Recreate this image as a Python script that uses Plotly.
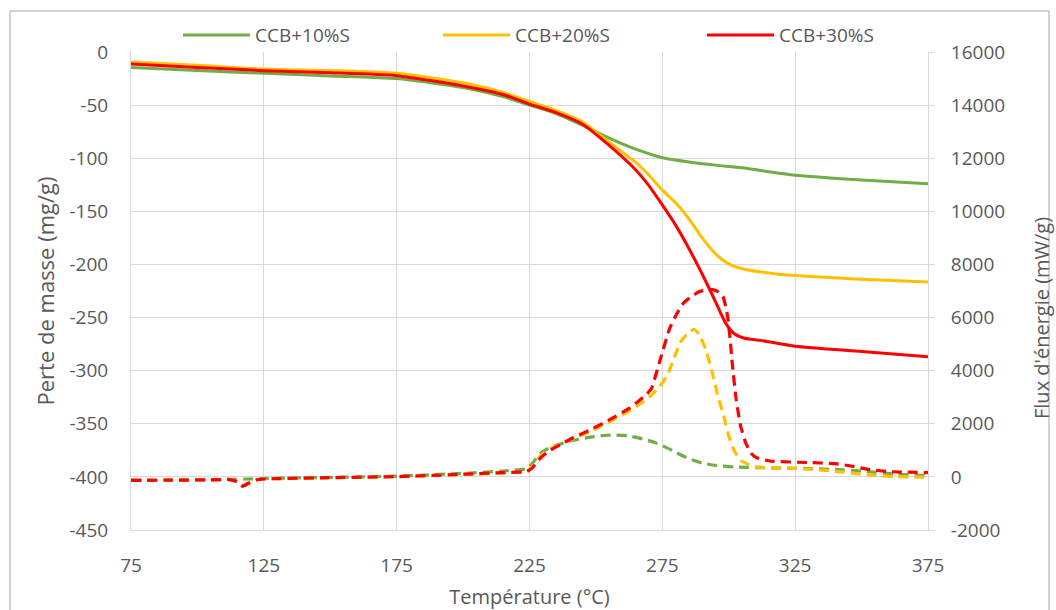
import plotly.graph_objects as go

# ---------------------------------------------------------------- data
series_names = ["CCB+10%S", "CCB+20%S", "CCB+30%S"]
series_colors = ["#70ad47", "#ffc000", "#ff0000"]

# Thermogravimetry: mass loss (mg/g) vs temperature (°C) -- left axis
tg_temp_10 = [75, 100, 125, 150, 175, 200, 215, 225, 235, 245, 255, 265, 275, 285, 295, 305, 325, 350, 375]
tg_mass_10 = [-14.5, -17.5, -20, -22.5, -25, -33.5, -42, -50, -58, -69, -81, -91.5, -99.5, -103.5, -106.5, -109, -116, -120.5, -124]

tg_temp_20 = [75, 100, 125, 150, 175, 200, 215, 225, 235, 245, 255, 265, 270, 275, 280, 285, 290, 295, 300, 305, 315, 325, 350, 375]
tg_mass_20 = [-9.5, -12.5, -16, -17.5, -20, -29, -38, -46.5, -55, -66, -85, -104, -116, -130, -142, -157, -175, -190, -199.5, -204, -208, -210.5, -214, -216.5]

tg_temp_30 = [75, 100, 125, 150, 175, 200, 215, 225, 235, 245, 255, 265, 270, 275, 280, 285, 290, 295, 299, 302, 306, 312, 325, 350, 375]
tg_mass_30 = [-11.3, -14.5, -17.6, -19.5, -22.3, -32, -40, -49, -57, -68, -88, -111, -126, -144, -163, -185, -209, -235, -256, -265, -269.5, -271.5, -277, -282, -287]

# Heat flow (mW/g) vs temperature (°C) -- right axis
dsc_temp_10 = [75, 90, 105, 112, 118, 125, 150, 175, 200, 215, 224, 226, 229, 233, 240, 248, 256, 262, 268, 272, 276, 280, 285, 290, 296, 302, 315, 325, 340, 352, 363, 375]
dsc_flux_10 = [-120, -115, -105, -95, -80, -60, -20, 30, 130, 220, 310, 500, 880, 1120, 1340, 1500, 1580, 1550, 1420, 1300, 1130, 930, 680, 520, 420, 370, 340, 325, 280, 200, 100, 40]

dsc_temp_20 = [75, 90, 105, 112, 115, 117, 119, 122, 125, 150, 175, 200, 215, 224, 226, 229, 233, 240, 248, 256, 262, 266, 270, 274, 277, 279.5, 282, 285, 287, 289, 291.5, 294, 296, 298, 300, 302, 304.5, 309, 315, 325, 340, 352, 363, 375]
dsc_flux_20 = [-130, -125, -110, -100, -180, -350, -250, -120, -80, -30, 10, 90, 150, 200, 380, 780, 1080, 1380, 1720, 2120, 2450, 2700, 3000, 3400, 3850, 4500, 5100, 5450, 5560, 5350, 4750, 3850, 3000, 2350, 1550, 1000, 620, 400, 340, 320, 220, 80, 10, -10]

dsc_temp_30 = [75, 90, 105, 112, 115, 117, 119, 122, 125, 150, 175, 200, 215, 224, 226, 229, 232, 240, 248, 256, 262, 266, 269, 271, 274, 277.8, 280.5, 283, 286, 289, 293, 295.5, 297.8, 299.5, 300.5, 301.3, 302.8, 304.5, 306.5, 308.5, 310.5, 316, 330, 340, 346, 352, 360, 375]
dsc_flux_30 = [-130, -125, -110, -100, -180, -350, -250, -120, -80, -30, 10, 100, 160, 210, 330, 700, 950, 1400, 1780, 2200, 2550, 2850, 3100, 3350, 4350, 5600, 6150, 6550, 6800, 6980, 7060, 7000, 6800, 6100, 5200, 4300, 2900, 1900, 1250, 880, 720, 590, 540, 500, 410, 290, 200, 160]

x_tick_values = [75, 125, 175, 225, 275, 325, 375]
y_left_ticks = [0, -50, -100, -150, -200, -250, -300, -350, -400, -450]
y_right_ticks = [16000, 14000, 12000, 10000, 8000, 6000, 4000, 2000, 0, -2000]

tg_series = [(tg_temp_10, tg_mass_10), (tg_temp_20, tg_mass_20), (tg_temp_30, tg_mass_30)]
dsc_series = [(dsc_temp_10, dsc_flux_10), (dsc_temp_20, dsc_flux_20), (dsc_temp_30, dsc_flux_30)]

# ---------------------------------------------------------------- style
W, H = 1056, 610
M_L, M_R, M_T, M_B = 131, 128, 52, 80
PW, PH = W - M_L - M_R, H - M_T - M_B
TEXT = "#595959"
GRID = "#d9d9d9"
FONT = "Open Sans"


def px_x(px):
    return (px - M_L) / PW


def px_y(py):
    return 1 - (py - M_T) / PH


fig = go.Figure()

for (t, v), name, color in zip(tg_series, series_names, series_colors):
    fig.add_trace(go.Scatter(
        x=t, y=v, name=name, mode="lines",
        line=dict(color=color, width=3, shape="spline", smoothing=0.6),
        yaxis="y", showlegend=False,
    ))

for (t, v), name, color in zip(dsc_series, series_names, series_colors):
    fig.add_trace(go.Scatter(
        x=t, y=v, name=name, mode="lines",
        line=dict(color=color, width=3.2, dash="10px,6px", shape="spline", smoothing=0.4),
        yaxis="y2", showlegend=False,
    ))

# legend row across the top
shapes = []
annotations = []
legend_line_px = [183, 443, 707]
legend_y = px_y(35)
for x0, name, color in zip(legend_line_px, series_names, series_colors):
    shapes.append(dict(type="line", xref="paper", yref="paper",
                       x0=px_x(x0), x1=px_x(x0 + 67), y0=legend_y, y1=legend_y,
                       line=dict(color=color, width=3)))
    annotations.append(dict(xref="paper", yref="paper", x=px_x(x0 + 70), y=legend_y,
                            xanchor="left", yanchor="middle", showarrow=False,
                            text=name, font=dict(family=FONT, size=19, color=TEXT)))

# chart frame
shapes.append(dict(type="rect", xref="paper", yref="paper",
                   x0=px_x(10), x1=px_x(1049), y0=px_y(616), y1=px_y(11),
                   line=dict(color="#a6a6a6", width=1), fillcolor="rgba(0,0,0,0)", layer="below"))

# right axis title
annotations.append(dict(xref="paper", yref="paper", x=px_x(1041), y=px_y(318),
                        xanchor="center", yanchor="middle", showarrow=False, textangle=-90,
                        text="Flux d'énergie (mW/g)", font=dict(family=FONT, size=20, color=TEXT)))

fig.update_layout(
    width=W, height=H,
    margin=dict(l=M_L, r=M_R, t=M_T, b=M_B, autoexpand=False),
    paper_bgcolor="white", plot_bgcolor="white",
    font=dict(family=FONT, color=TEXT, size=19),
    showlegend=False,
    shapes=shapes, annotations=annotations,
    xaxis=dict(
        range=[75, 375], tickvals=x_tick_values, ticktext=[str(v) for v in x_tick_values],
        showgrid=True, gridcolor=GRID, gridwidth=1,
        zeroline=False, showline=True, linecolor=GRID, linewidth=1, ticks="",
        ticklabelstandoff=18, tickfont=dict(size=19, color=TEXT),
        title=dict(text="Température (°C)", font=dict(size=20, color=TEXT), standoff=14),
    ),
    yaxis=dict(
        range=[-450, 0], tickvals=y_left_ticks, ticktext=[str(v) for v in y_left_ticks],
        showgrid=True, gridcolor=GRID, gridwidth=1,
        zeroline=False, showline=True, linecolor=GRID, linewidth=1, ticks="",
        ticklabelstandoff=18, tickfont=dict(size=19, color=TEXT),
        title=dict(text="Perte de masse (mg/g)", font=dict(size=22, color=TEXT), standoff=8),
    ),
    yaxis2=dict(
        range=[-2000, 16000], tickvals=y_right_ticks, ticktext=[str(v) for v in y_right_ticks],
        overlaying="y", side="right",
        showgrid=False, zeroline=False, showline=True, linecolor=GRID, linewidth=1,
        ticks="outside", ticklen=6, tickcolor=GRID, ticklabelstandoff=12,
        tickfont=dict(size=19, color=TEXT),
    ),
)

fig.write_html("out.html")
